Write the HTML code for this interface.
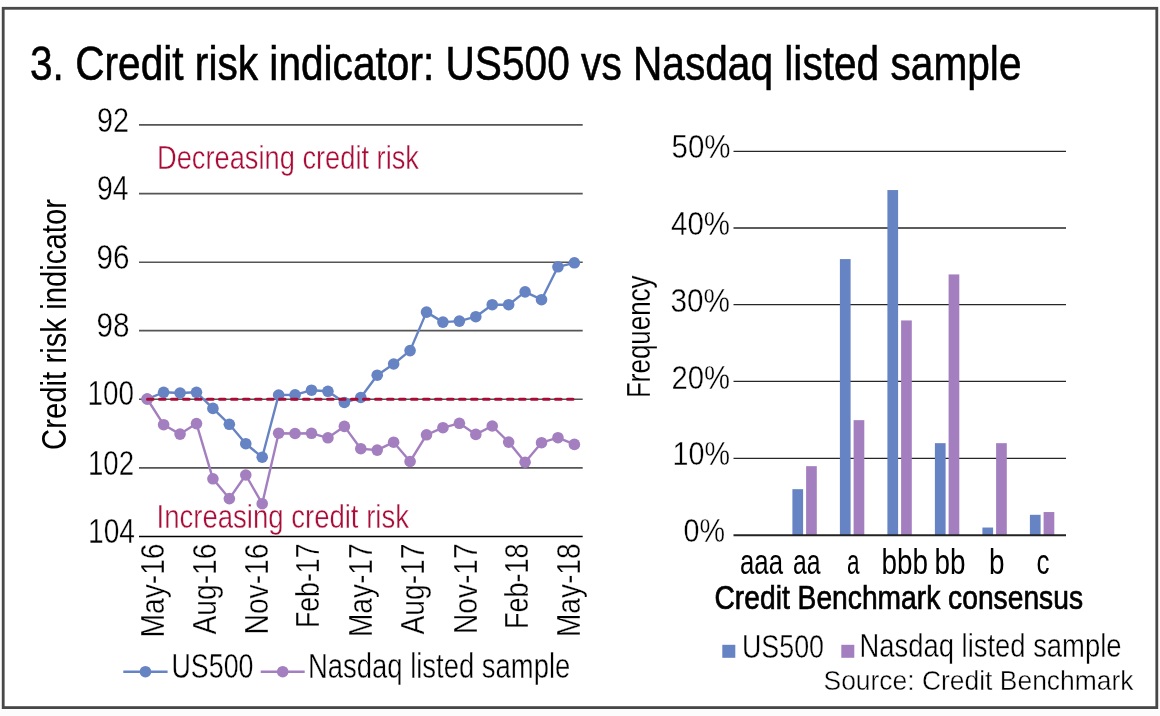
<!DOCTYPE html><html><head><meta charset="utf-8"><title>Credit risk indicator</title><style>html,body{margin:0;padding:0;background:#fcfcfc;}svg{display:block;will-change:transform;}text{font-family:"Liberation Sans", Arial, sans-serif;}</style></head><body>
<svg width="1160" height="716" viewBox="0 0 1160 716">
<rect x="0" y="0" width="1160" height="716" fill="#fcfcfc"/>
<rect x="3.2" y="8.3" width="1153.6" height="699.3" fill="#ffffff" stroke="#474747" stroke-width="2.8"/>
<line x1="139" y1="124.9" x2="582.7" y2="124.9" stroke="#555" stroke-width="1.6"/>
<line x1="139" y1="193.6" x2="582.7" y2="193.6" stroke="#555" stroke-width="1.6"/>
<line x1="139" y1="262.2" x2="582.7" y2="262.2" stroke="#555" stroke-width="1.6"/>
<line x1="139" y1="330.6" x2="582.7" y2="330.6" stroke="#555" stroke-width="1.6"/>
<line x1="139" y1="399.2" x2="582.7" y2="399.2" stroke="#555" stroke-width="1.6"/>
<line x1="139" y1="467.9" x2="582.7" y2="467.9" stroke="#555" stroke-width="1.6"/>
<line x1="139" y1="536.4" x2="582.7" y2="536.4" stroke="#000" stroke-width="1.5"/>
<polyline points="147.20,399.00 163.63,392.30 180.06,393.00 196.49,392.30 212.92,408.40 229.35,424.30 245.78,443.70 262.21,457.20 278.64,395.00 295.07,394.90 311.50,390.20 327.93,391.30 344.36,402.50 360.79,397.50 377.22,375.20 393.65,364.00 410.08,350.60 426.51,312.10 442.94,322.10 459.37,321.10 475.80,316.70 492.23,304.70 508.66,304.70 525.09,291.90 541.52,299.70 557.95,266.80 574.38,262.80" fill="none" stroke="#6683c3" stroke-width="2.4" stroke-linejoin="round"/>
<circle cx="147.20" cy="399.00" r="5.8" fill="#6683c3"/>
<circle cx="163.63" cy="392.30" r="5.8" fill="#6683c3"/>
<circle cx="180.06" cy="393.00" r="5.8" fill="#6683c3"/>
<circle cx="196.49" cy="392.30" r="5.8" fill="#6683c3"/>
<circle cx="212.92" cy="408.40" r="5.8" fill="#6683c3"/>
<circle cx="229.35" cy="424.30" r="5.8" fill="#6683c3"/>
<circle cx="245.78" cy="443.70" r="5.8" fill="#6683c3"/>
<circle cx="262.21" cy="457.20" r="5.8" fill="#6683c3"/>
<circle cx="278.64" cy="395.00" r="5.8" fill="#6683c3"/>
<circle cx="295.07" cy="394.90" r="5.8" fill="#6683c3"/>
<circle cx="311.50" cy="390.20" r="5.8" fill="#6683c3"/>
<circle cx="327.93" cy="391.30" r="5.8" fill="#6683c3"/>
<circle cx="344.36" cy="402.50" r="5.8" fill="#6683c3"/>
<circle cx="360.79" cy="397.50" r="5.8" fill="#6683c3"/>
<circle cx="377.22" cy="375.20" r="5.8" fill="#6683c3"/>
<circle cx="393.65" cy="364.00" r="5.8" fill="#6683c3"/>
<circle cx="410.08" cy="350.60" r="5.8" fill="#6683c3"/>
<circle cx="426.51" cy="312.10" r="5.8" fill="#6683c3"/>
<circle cx="442.94" cy="322.10" r="5.8" fill="#6683c3"/>
<circle cx="459.37" cy="321.10" r="5.8" fill="#6683c3"/>
<circle cx="475.80" cy="316.70" r="5.8" fill="#6683c3"/>
<circle cx="492.23" cy="304.70" r="5.8" fill="#6683c3"/>
<circle cx="508.66" cy="304.70" r="5.8" fill="#6683c3"/>
<circle cx="525.09" cy="291.90" r="5.8" fill="#6683c3"/>
<circle cx="541.52" cy="299.70" r="5.8" fill="#6683c3"/>
<circle cx="557.95" cy="266.80" r="5.8" fill="#6683c3"/>
<circle cx="574.38" cy="262.80" r="5.8" fill="#6683c3"/>
<polyline points="147.20,399.00 163.63,424.70 180.06,434.10 196.49,423.60 212.92,478.80 229.35,498.60 245.78,475.00 262.21,503.70 278.64,433.20 295.07,433.50 311.50,433.30 327.93,437.80 344.36,426.40 360.79,448.70 377.22,450.10 393.65,442.20 410.08,461.50 426.51,434.80 442.94,427.70 459.37,423.30 475.80,434.40 492.23,426.00 508.66,442.10 525.09,462.20 541.52,442.70 557.95,437.70 574.38,444.40" fill="none" stroke="#a47fc0" stroke-width="2.4" stroke-linejoin="round"/>
<circle cx="147.20" cy="399.00" r="5.8" fill="#a47fc0"/>
<circle cx="163.63" cy="424.70" r="5.8" fill="#a47fc0"/>
<circle cx="180.06" cy="434.10" r="5.8" fill="#a47fc0"/>
<circle cx="196.49" cy="423.60" r="5.8" fill="#a47fc0"/>
<circle cx="212.92" cy="478.80" r="5.8" fill="#a47fc0"/>
<circle cx="229.35" cy="498.60" r="5.8" fill="#a47fc0"/>
<circle cx="245.78" cy="475.00" r="5.8" fill="#a47fc0"/>
<circle cx="262.21" cy="503.70" r="5.8" fill="#a47fc0"/>
<circle cx="278.64" cy="433.20" r="5.8" fill="#a47fc0"/>
<circle cx="295.07" cy="433.50" r="5.8" fill="#a47fc0"/>
<circle cx="311.50" cy="433.30" r="5.8" fill="#a47fc0"/>
<circle cx="327.93" cy="437.80" r="5.8" fill="#a47fc0"/>
<circle cx="344.36" cy="426.40" r="5.8" fill="#a47fc0"/>
<circle cx="360.79" cy="448.70" r="5.8" fill="#a47fc0"/>
<circle cx="377.22" cy="450.10" r="5.8" fill="#a47fc0"/>
<circle cx="393.65" cy="442.20" r="5.8" fill="#a47fc0"/>
<circle cx="410.08" cy="461.50" r="5.8" fill="#a47fc0"/>
<circle cx="426.51" cy="434.80" r="5.8" fill="#a47fc0"/>
<circle cx="442.94" cy="427.70" r="5.8" fill="#a47fc0"/>
<circle cx="459.37" cy="423.30" r="5.8" fill="#a47fc0"/>
<circle cx="475.80" cy="434.40" r="5.8" fill="#a47fc0"/>
<circle cx="492.23" cy="426.00" r="5.8" fill="#a47fc0"/>
<circle cx="508.66" cy="442.10" r="5.8" fill="#a47fc0"/>
<circle cx="525.09" cy="462.20" r="5.8" fill="#a47fc0"/>
<circle cx="541.52" cy="442.70" r="5.8" fill="#a47fc0"/>
<circle cx="557.95" cy="437.70" r="5.8" fill="#a47fc0"/>
<circle cx="574.38" cy="444.40" r="5.8" fill="#a47fc0"/>
<line x1="147.5" y1="399.3" x2="573" y2="399.3" stroke="#aa0c38" stroke-width="3" stroke-dasharray="5.6 6.4" stroke-linecap="round"/>
<line x1="733.5" y1="151.3" x2="1066" y2="151.3" stroke="#262626" stroke-width="1.3"/>
<line x1="733.5" y1="228.0" x2="1066" y2="228.0" stroke="#262626" stroke-width="1.3"/>
<line x1="733.5" y1="304.6" x2="1066" y2="304.6" stroke="#262626" stroke-width="1.3"/>
<line x1="733.5" y1="381.4" x2="1066" y2="381.4" stroke="#262626" stroke-width="1.3"/>
<line x1="733.5" y1="458.3" x2="1066" y2="458.3" stroke="#262626" stroke-width="1.3"/>
<rect x="792.40" y="489.18" width="10.7" height="46.02" fill="#6683c3"/>
<rect x="806.10" y="466.17" width="10.7" height="69.03" fill="#a47fc0"/>
<rect x="839.90" y="259.08" width="10.7" height="276.12" fill="#6683c3"/>
<rect x="853.60" y="420.15" width="10.7" height="115.05" fill="#a47fc0"/>
<rect x="887.40" y="190.05" width="10.7" height="345.15" fill="#6683c3"/>
<rect x="901.10" y="320.44" width="10.7" height="214.76" fill="#a47fc0"/>
<rect x="934.90" y="443.16" width="10.7" height="92.04" fill="#6683c3"/>
<rect x="948.60" y="274.42" width="10.7" height="260.78" fill="#a47fc0"/>
<rect x="982.40" y="527.53" width="10.7" height="7.67" fill="#6683c3"/>
<rect x="996.10" y="443.16" width="10.7" height="92.04" fill="#a47fc0"/>
<rect x="1029.90" y="514.80" width="10.7" height="20.40" fill="#6683c3"/>
<rect x="1043.60" y="512.04" width="10.7" height="23.16" fill="#a47fc0"/>
<line x1="733.5" y1="535.3" x2="1066" y2="535.3" stroke="#222" stroke-width="2"/>
<line x1="123.3" y1="671.7" x2="167.6" y2="671.7" stroke="#6683c3" stroke-width="2.4"/>
<circle cx="145.45" cy="671.7" r="5.8" fill="#6683c3"/>
<line x1="260.7" y1="671.7" x2="304.7" y2="671.7" stroke="#a47fc0" stroke-width="2.4"/>
<circle cx="282.7" cy="671.7" r="5.8" fill="#a47fc0"/>
<rect x="722.3" y="644.8" width="13" height="13" fill="#6683c3"/>
<rect x="841.3" y="644.8" width="13" height="13" fill="#a47fc0"/>
<text x="30.00" y="80.20" font-size="49" fill="#000" stroke="#000" stroke-width="0.6" textLength="991.50" lengthAdjust="spacingAndGlyphs">3. Credit risk indicator: US500 vs Nasdaq listed sample</text>
<text x="97.00" y="131.50" font-size="34.85" fill="#000" stroke="#fff" stroke-width="0.4" textLength="32.00" lengthAdjust="spacingAndGlyphs">92</text>
<text x="97.00" y="200.00" font-size="34.85" fill="#000" stroke="#fff" stroke-width="0.4" textLength="31.50" lengthAdjust="spacingAndGlyphs">94</text>
<text x="96.50" y="268.50" font-size="34.85" fill="#000" stroke="#fff" stroke-width="0.4" textLength="33.00" lengthAdjust="spacingAndGlyphs">96</text>
<text x="96.50" y="337.00" font-size="34.85" fill="#000" stroke="#fff" stroke-width="0.4" textLength="33.00" lengthAdjust="spacingAndGlyphs">98</text>
<text x="87.50" y="405.30" font-size="34.85" fill="#000" stroke="#fff" stroke-width="0.4" textLength="46.50" lengthAdjust="spacingAndGlyphs">100</text>
<text x="88.00" y="474.50" font-size="34.85" fill="#000" stroke="#fff" stroke-width="0.4" textLength="46.00" lengthAdjust="spacingAndGlyphs">102</text>
<text x="88.00" y="542.90" font-size="34.85" fill="#000" stroke="#fff" stroke-width="0.4" textLength="47.00" lengthAdjust="spacingAndGlyphs">104</text>
<text x="157.00" y="168.80" font-size="33.35" fill="#aa0c38" stroke="#fff" stroke-width="0.4" textLength="262.00" lengthAdjust="spacingAndGlyphs">Decreasing credit risk</text>
<text x="156.50" y="527.60" font-size="33.35" fill="#aa0c38" stroke="#fff" stroke-width="0.4" textLength="252.50" lengthAdjust="spacingAndGlyphs">Increasing credit risk</text>
<text transform="translate(65.50,450.00) rotate(-90)" x="0" y="0" font-size="34.85" fill="#000" textLength="251.00" lengthAdjust="spacingAndGlyphs">Credit risk indicator</text>
<text transform="translate(163.50,637.50) rotate(-90)" x="0" y="0" font-size="33.8" fill="#000" stroke="#fff" stroke-width="0.35" textLength="94.00" lengthAdjust="spacingAndGlyphs">May-16</text>
<text transform="translate(215.90,634.50) rotate(-90)" x="0" y="0" font-size="33.8" fill="#000" stroke="#fff" stroke-width="0.35" textLength="91.00" lengthAdjust="spacingAndGlyphs">Aug-16</text>
<text transform="translate(268.00,634.50) rotate(-90)" x="0" y="0" font-size="33.8" fill="#000" stroke="#fff" stroke-width="0.35" textLength="91.00" lengthAdjust="spacingAndGlyphs">Nov-16</text>
<text transform="translate(319.00,628.00) rotate(-90)" x="0" y="0" font-size="33.8" fill="#000" stroke="#fff" stroke-width="0.35" textLength="84.50" lengthAdjust="spacingAndGlyphs">Feb-17</text>
<text transform="translate(372.00,637.00) rotate(-90)" x="0" y="0" font-size="33.8" fill="#000" stroke="#fff" stroke-width="0.35" textLength="93.50" lengthAdjust="spacingAndGlyphs">May-17</text>
<text transform="translate(423.70,634.50) rotate(-90)" x="0" y="0" font-size="33.8" fill="#000" stroke="#fff" stroke-width="0.35" textLength="91.00" lengthAdjust="spacingAndGlyphs">Aug-17</text>
<text transform="translate(476.50,634.00) rotate(-90)" x="0" y="0" font-size="33.8" fill="#000" stroke="#fff" stroke-width="0.35" textLength="90.50" lengthAdjust="spacingAndGlyphs">Nov-17</text>
<text transform="translate(528.30,629.00) rotate(-90)" x="0" y="0" font-size="33.8" fill="#000" stroke="#fff" stroke-width="0.35" textLength="85.50" lengthAdjust="spacingAndGlyphs">Feb-18</text>
<text transform="translate(580.00,637.00) rotate(-90)" x="0" y="0" font-size="33.8" fill="#000" stroke="#fff" stroke-width="0.35" textLength="93.50" lengthAdjust="spacingAndGlyphs">May-18</text>
<text x="671.50" y="158.40" font-size="33.85" fill="#000" stroke="#fff" stroke-width="0.4" textLength="59.00" lengthAdjust="spacingAndGlyphs">50%</text>
<text x="671.00" y="235.20" font-size="33.85" fill="#000" stroke="#fff" stroke-width="0.4" textLength="59.00" lengthAdjust="spacingAndGlyphs">40%</text>
<text x="670.50" y="311.50" font-size="33.85" fill="#000" stroke="#fff" stroke-width="0.4" textLength="59.50" lengthAdjust="spacingAndGlyphs">30%</text>
<text x="671.50" y="388.90" font-size="33.85" fill="#000" stroke="#fff" stroke-width="0.4" textLength="58.50" lengthAdjust="spacingAndGlyphs">20%</text>
<text x="672.50" y="465.40" font-size="33.85" fill="#000" stroke="#fff" stroke-width="0.4" textLength="57.50" lengthAdjust="spacingAndGlyphs">10%</text>
<text x="683.50" y="541.60" font-size="33.85" fill="#000" stroke="#fff" stroke-width="0.4" textLength="41.50" lengthAdjust="spacingAndGlyphs">0%</text>
<text transform="translate(649.60,398.00) rotate(-90)" x="0" y="0" font-size="33.85" fill="#000" stroke="#fff" stroke-width="0.2" textLength="122.50" lengthAdjust="spacingAndGlyphs">Frequency</text>
<text x="740.00" y="573.50" font-size="34.35" fill="#000" textLength="43.00" lengthAdjust="spacingAndGlyphs">aaa</text>
<text x="793.00" y="573.50" font-size="34.35" fill="#000" textLength="27.50" lengthAdjust="spacingAndGlyphs">aa</text>
<text x="847.00" y="573.50" font-size="34.35" fill="#000" textLength="12.50" lengthAdjust="spacingAndGlyphs">a</text>
<text x="881.50" y="573.50" font-size="34.35" fill="#000" textLength="46.50" lengthAdjust="spacingAndGlyphs">bbb</text>
<text x="934.50" y="573.50" font-size="34.35" fill="#000" textLength="31.00" lengthAdjust="spacingAndGlyphs">bb</text>
<text x="989.00" y="573.50" font-size="34.35" fill="#000" textLength="15.50" lengthAdjust="spacingAndGlyphs">b</text>
<text x="1036.50" y="573.50" font-size="34.35" fill="#000" textLength="13.00" lengthAdjust="spacingAndGlyphs">c</text>
<text x="714.50" y="608.80" font-size="33.2" fill="#000" stroke="#000" stroke-width="0.7" textLength="368.50" lengthAdjust="spacingAndGlyphs">Credit Benchmark consensus</text>
<text x="171.50" y="677.80" font-size="35.35" fill="#000" stroke="#fff" stroke-width="0.4" textLength="82.00" lengthAdjust="spacingAndGlyphs">US500</text>
<text x="308.00" y="678.00" font-size="35.35" fill="#000" stroke="#fff" stroke-width="0.4" textLength="262.25" lengthAdjust="spacingAndGlyphs">Nasdaq listed sample</text>
<text x="742.00" y="657.50" font-size="33.85" fill="#000" stroke="#fff" stroke-width="0.4" textLength="82.00" lengthAdjust="spacingAndGlyphs">US500</text>
<text x="859.50" y="657.10" font-size="33.85" fill="#000" stroke="#fff" stroke-width="0.4" textLength="262.00" lengthAdjust="spacingAndGlyphs">Nasdaq listed sample</text>
<text x="823.50" y="689.70" font-size="28.35" fill="#000" stroke="#fff" stroke-width="0.4" textLength="310.00" lengthAdjust="spacingAndGlyphs">Source: Credit Benchmark</text>
</svg></body></html>
